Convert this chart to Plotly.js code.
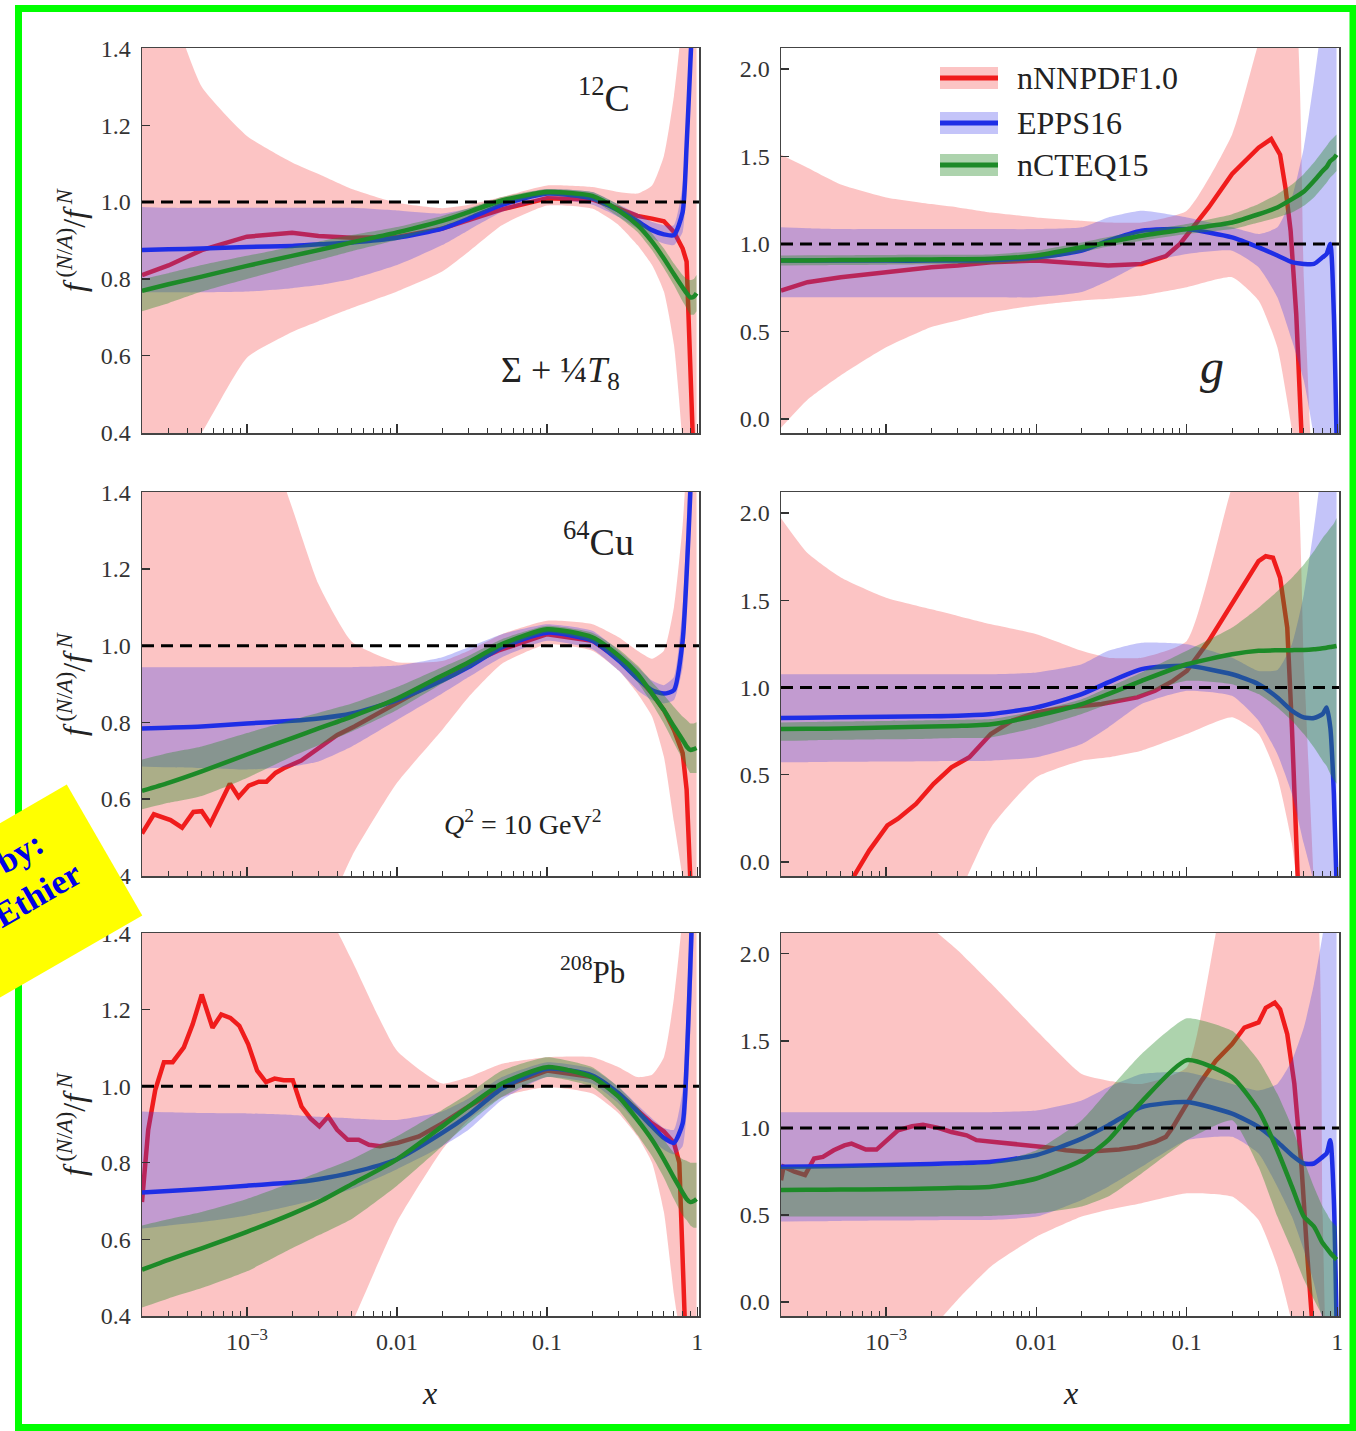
<!DOCTYPE html>
<html><head><meta charset="utf-8">
<script src="https://cdn.plot.ly/plotly-3.0.1.min.js"></script>
<style>body{margin:0;background:#fff}</style>
</head><body><div id="chart" style="width:1356px;height:1431px"></div>
<script>
// ---------- shared x grid (used by bands and smooth central lines) ----------
const xGrid = [2e-4,3e-4,5e-4,1e-3,2e-3,3e-3,5e-3,0.01,0.02,0.03,0.05,0.1,0.2,0.3,0.4,0.5,0.6,0.7,0.8,0.85,0.9,0.95,0.99];

// ---------- 12C, Sigma + T8/4 ----------
const c_q_nn    = [0.81,0.835,0.875,0.91,0.92,0.912,0.907,0.909,0.931,0.953,0.981,1.01,1.007,0.983,0.964,0.957,0.95,0.922,0.879,0.845,0.63,0.37,0.11];
const c_q_nn_lo = [0.11,0.28,0.40,0.595,0.662,0.69,0.724,0.767,0.819,0.871,0.94,0.991,0.983,0.94,0.888,0.836,0.767,0.629,0.37,0.11,-0.3,-0.6,-1.0];
const c_q_nn_hi = [1.75,1.53,1.30,1.172,1.103,1.073,1.034,0.998,0.984,0.993,1.013,1.043,1.039,1.026,1.022,1.043,1.12,1.276,1.49,1.75,2.1,2.5,3.0];
const c_q_ep    = [0.875,0.877,0.879,0.883,0.886,0.89,0.895,0.907,0.931,0.957,0.993,1.022,1.01,0.978,0.95,0.927,0.916,0.914,0.974,1.147,1.36,1.58,1.92];
const c_q_ep_lo = [0.765,0.765,0.765,0.767,0.776,0.784,0.80,0.836,0.888,0.927,0.974,1.007,0.993,0.961,0.931,0.905,0.892,0.888,0.922,1.06,1.276,1.5,1.8];
const c_q_ep_hi = [0.987,0.985,0.985,0.985,0.985,0.985,0.985,0.978,0.97,0.983,1.009,1.034,1.026,0.993,0.97,0.948,0.94,0.94,1.043,1.233,1.49,1.75,2.1];
const c_q_nc    = [0.769,0.786,0.806,0.834,0.86,0.875,0.895,0.921,0.951,0.974,1.004,1.026,1.016,0.978,0.94,0.897,0.853,0.812,0.778,0.763,0.752,0.754,0.763];
const c_q_nc_lo = [0.716,0.737,0.767,0.80,0.832,0.849,0.872,0.901,0.935,0.961,0.993,1.017,1.004,0.961,0.922,0.875,0.828,0.784,0.741,0.724,0.707,0.707,0.716];
const c_q_nc_hi = [0.80,0.815,0.836,0.86,0.884,0.897,0.914,0.935,0.964,0.984,1.013,1.034,1.026,0.993,0.957,0.918,0.879,0.84,0.81,0.80,0.797,0.80,0.81];

// ---------- 12C, gluon ----------
const c_g_nn_x  = [2e-4,3e-4,5e-4,1e-3,2e-3,3e-3,5e-3,0.01,0.02,0.03,0.05,0.0725,0.09,0.14,0.2,0.3,0.364,0.417,0.453,0.49,0.534,0.58];
const c_g_nn    = [0.734,0.782,0.81,0.839,0.867,0.877,0.896,0.905,0.886,0.877,0.886,0.93,1.0,1.21,1.40,1.55,1.60,1.51,1.32,1.076,0.60,-0.1];
const c_g_nn_lo = [-0.05,0.11,0.25,0.41,0.526,0.563,0.61,0.65,0.677,0.687,0.706,0.753,0.81,0.677,0.41,-0.06,-0.5,-1,-1,-1,-1,-1,-1];
const c_g_nn_hi = [1.51,1.436,1.34,1.266,1.228,1.209,1.18,1.152,1.133,1.123,1.123,1.19,1.626,2.15,2.5,2.5,0.8,-0.5,-1,-1,-1,-1,-1];
const c_g_ep    = [0.905,0.905,0.905,0.905,0.905,0.906,0.908,0.924,0.962,1.019,1.076,1.085,1.038,0.981,0.934,0.896,0.886,0.886,0.924,0.943,1.0,0.6,-0.1];
const c_g_ep_lo = [0.696,0.696,0.696,0.696,0.696,0.696,0.696,0.696,0.725,0.79,0.886,0.943,0.962,0.867,0.696,0.45,0.22,-0.1,-0.5,-0.5,-0.5,-0.5,-0.5];
const c_g_ep_hi = [1.095,1.09,1.085,1.085,1.085,1.085,1.085,1.085,1.095,1.152,1.19,1.152,1.095,1.057,1.095,1.266,1.55,1.93,2.3,2.5,2.5,2.5,2.5];
const c_g_nc    = [0.905,0.906,0.908,0.91,0.912,0.913,0.915,0.934,0.981,1.009,1.047,1.085,1.123,1.17,1.209,1.256,1.30,1.36,1.417,1.44,1.474,1.49,1.51];
const c_g_nc_lo = [0.877,0.878,0.88,0.882,0.884,0.885,0.886,0.905,0.953,0.985,1.019,1.057,1.085,1.123,1.152,1.18,1.218,1.266,1.323,1.35,1.38,1.40,1.417];
const c_g_nc_hi = [0.934,0.935,0.936,0.937,0.938,0.939,0.94,0.962,1.009,1.04,1.076,1.114,1.17,1.228,1.285,1.34,1.40,1.465,1.53,1.56,1.59,1.61,1.626];

// ---------- 64Cu, Sigma + T8/4 ----------
const cu_q_nn_x  = [2.0e-4,2.4e-4,3.1e-4,3.7e-4,4.4e-4,5.0e-4,5.7e-4,7.7e-4,8.8e-4,1.03e-3,1.2e-3,1.35e-3,1.55e-3,1.76e-3,2.3e-3,3.0e-3,4.0e-3,5.2e-3,9.0e-3,0.0157,0.027,0.047,0.1,0.2,0.3,0.4,0.5,0.6,0.7,0.8,0.85,0.9,0.99];
const cu_q_nn    = [0.51,0.56,0.545,0.525,0.566,0.568,0.535,0.64,0.605,0.635,0.645,0.645,0.668,0.68,0.70,0.733,0.767,0.789,0.841,0.892,0.944,0.987,1.03,1.013,0.966,0.918,0.875,0.832,0.78,0.72,0.625,0.39,-0.5];
const cu_q_nn_lo = [-0.5,-0.45,-0.35,-0.2,0.05,0.25,0.45,0.642,0.78,0.866,0.953,1.004,0.987,0.935,0.875,0.815,0.71,0.54,0.39,0.2,-0.2,-0.5,-1];
const cu_q_nn_hi = [2.5,2.3,2.0,1.7,1.36,1.16,1.01,0.957,0.96,0.987,1.03,1.065,1.056,1.022,0.987,0.966,0.987,1.10,1.315,1.49,1.8,2.2,3.0];
const cu_q_ep    = [0.784,0.786,0.789,0.797,0.804,0.81,0.823,0.858,0.909,0.944,0.996,1.034,1.013,0.961,0.914,0.884,0.875,0.884,1.013,1.185,1.40,1.7,2.0];
const cu_q_ep_lo = [0.685,0.683,0.681,0.677,0.685,0.698,0.737,0.806,0.875,0.918,0.97,1.013,0.991,0.935,0.884,0.858,0.849,0.858,0.944,1.10,1.315,1.6,1.9];
const cu_q_ep_hi = [0.944,0.944,0.944,0.944,0.944,0.944,0.944,0.948,0.97,0.996,1.03,1.056,1.039,0.987,0.944,0.909,0.897,0.918,1.10,1.315,1.6,1.9,2.2];
const cu_q_nc    = [0.621,0.642,0.672,0.716,0.759,0.784,0.815,0.862,0.922,0.957,1.004,1.043,1.022,0.974,0.927,0.875,0.832,0.789,0.754,0.737,0.728,0.73,0.733];
const cu_q_nc_lo = [0.573,0.59,0.608,0.655,0.711,0.74,0.776,0.832,0.901,0.94,0.991,1.034,1.009,0.957,0.905,0.849,0.797,0.746,0.703,0.685,0.668,0.668,0.668];
const cu_q_nc_hi = [0.703,0.72,0.737,0.772,0.806,0.825,0.849,0.892,0.944,0.974,1.017,1.052,1.034,0.991,0.948,0.905,0.871,0.84,0.815,0.806,0.797,0.797,0.80];

// ---------- 64Cu, gluon ----------
const cu_g_nn_x  = [2e-4,6.05e-4,7.74e-4,1.02e-3,1.2e-3,1.58e-3,2.07e-3,2.72e-3,3.58e-3,4.97e-3,6.9e-3,0.01,0.0157,0.0271,0.0468,0.0615,0.0809,0.1,0.14,0.2,0.2415,0.3,0.335,0.374,0.417,0.4655,0.5,0.548];
const cu_g_nn    = [-0.7,-0.086,0.067,0.21,0.248,0.333,0.448,0.543,0.60,0.733,0.81,0.857,0.886,0.905,0.943,0.981,1.038,1.095,1.267,1.476,1.59,1.724,1.752,1.743,1.629,1.343,0.771,-0.12];
const cu_g_nn_lo = [-0.5,-0.5,-0.5,-0.5,-0.5,-0.2,0.2,0.486,0.581,0.60,0.638,0.733,0.829,0.733,0.486,0.105,-0.5,-1,-1,-1,-1,-1,-1];
const cu_g_nn_hi = [1.97,1.77,1.63,1.514,1.448,1.41,1.362,1.305,1.21,1.171,1.171,1.267,2.15,2.5,2.5,2.5,1.15,-0.12,-1,-1,-1,-1,-1];
const cu_g_ep    = [0.825,0.827,0.829,0.832,0.835,0.838,0.848,0.886,0.962,1.029,1.105,1.124,1.076,1.019,0.943,0.867,0.829,0.825,0.848,0.886,0.77,0.39,-0.12];
const cu_g_ep_lo = [0.571,0.572,0.574,0.576,0.578,0.579,0.581,0.60,0.676,0.771,0.905,0.981,0.952,0.81,0.619,0.39,0.105,-0.12,-0.5,-0.5,-0.5,-0.5,-0.5];
const cu_g_ep_hi = [1.076,1.076,1.076,1.076,1.076,1.076,1.076,1.086,1.133,1.21,1.257,1.248,1.171,1.095,1.10,1.248,1.533,1.914,2.3,2.5,2.5,2.5,2.5];
const cu_g_nc    = [0.762,0.763,0.765,0.771,0.776,0.78,0.79,0.838,0.905,0.962,1.038,1.133,1.19,1.21,1.213,1.214,1.215,1.219,1.225,1.228,1.232,1.235,1.238];
const cu_g_nc_lo = [0.695,0.697,0.70,0.703,0.707,0.71,0.714,0.771,0.848,0.905,0.962,1.038,1.019,0.962,0.886,0.81,0.733,0.657,0.581,0.55,0.505,0.47,0.448];
const cu_g_nc_hi = [0.80,0.802,0.805,0.808,0.812,0.815,0.819,0.867,0.933,1.0,1.086,1.21,1.343,1.457,1.552,1.629,1.705,1.781,1.857,1.885,1.914,1.94,1.971];

// ---------- 208Pb, Sigma + T8/4 ----------
const pb_q_nn_x  = [2.0e-4,2.2e-4,2.45e-4,2.8e-4,3.2e-4,3.8e-4,4.35e-4,5.0e-4,5.9e-4,6.75e-4,7.75e-4,8.9e-4,1.02e-3,1.17e-3,1.34e-3,1.53e-3,1.76e-3,2.02e-3,2.31e-3,2.65e-3,3.04e-3,3.48e-3,3.99e-3,4.7e-3,5.55e-3,6.5e-3,7.7e-3,0.0101,0.014,0.02,0.03,0.05,0.1,0.2,0.3,0.4,0.5,0.6,0.7,0.76,0.8,0.85,0.99];
const pb_q_nn    = [0.697,0.886,0.99,1.063,1.063,1.102,1.162,1.24,1.153,1.188,1.179,1.158,1.11,1.041,1.011,1.02,1.016,1.016,0.947,0.916,0.895,0.921,0.886,0.86,0.86,0.847,0.843,0.852,0.869,0.903,0.947,0.998,1.041,1.024,0.981,0.938,0.903,0.882,0.852,0.80,0.628,0.395,-0.5];
const pb_q_nn_lo = [-0.5,-0.45,-0.4,-0.2,0.0,0.2,0.38,0.645,0.834,0.912,0.972,0.998,0.981,0.929,0.869,0.80,0.671,0.455,0.3,0.0,-0.3,-0.6,-1];
const pb_q_nn_hi = [2.2,2.1,2.0,1.8,1.6,1.5,1.33,1.093,1.007,1.024,1.059,1.076,1.076,1.05,1.024,1.03,1.076,1.231,1.45,1.7,2.0,2.5,3.0];
const pb_q_ep    = [0.722,0.726,0.731,0.74,0.748,0.757,0.774,0.809,0.878,0.925,0.994,1.046,1.028,0.981,0.934,0.895,0.865,0.852,0.903,1.059,1.317,1.6,1.9];
const pb_q_ep_lo = [0.628,0.636,0.645,0.662,0.688,0.705,0.731,0.783,0.843,0.886,0.964,1.024,1.007,0.955,0.903,0.86,0.834,0.822,0.843,0.929,1.145,1.4,1.7];
const pb_q_ep_hi = [0.934,0.932,0.93,0.929,0.925,0.92,0.916,0.912,0.934,0.968,1.024,1.063,1.046,0.998,0.951,0.916,0.891,0.886,0.99,1.188,1.45,1.75,2.1];
const pb_q_nc    = [0.52,0.546,0.576,0.619,0.666,0.697,0.744,0.809,0.895,0.947,1.007,1.05,1.024,0.972,0.912,0.86,0.809,0.761,0.722,0.705,0.697,0.70,0.705];
const pb_q_nc_lo = [0.421,0.445,0.472,0.516,0.576,0.61,0.653,0.74,0.843,0.903,0.972,1.024,0.998,0.938,0.873,0.817,0.761,0.705,0.662,0.65,0.636,0.63,0.63];
const pb_q_nc_hi = [0.636,0.652,0.671,0.705,0.748,0.775,0.809,0.869,0.938,0.981,1.041,1.076,1.05,0.998,0.947,0.899,0.86,0.826,0.809,0.805,0.80,0.80,0.80];

// ---------- 208Pb, gluon ----------
const pb_g_nn_x  = [2.0e-4,2.08e-4,2.455e-4,2.89e-4,3.32e-4,3.8e-4,4.48e-4,5.28e-4,5.89e-4,7.33e-4,8.64e-4,1.02e-3,1.2e-3,1.49e-3,1.76e-3,2.19e-3,2.72e-3,3.43e-3,3.99e-3,5.25e-3,6.9e-3,9.07e-3,0.01193,0.0157,0.0206,0.0271,0.0356,0.0468,0.0615,0.0725,0.0809,0.1,0.1253,0.156,0.2,0.2415,0.3,0.335,0.3846,0.4173,0.4655,0.519,0.5792,0.6287,0.6823];
const pb_g_nn    = [0.70,0.777,0.749,0.73,0.825,0.834,0.872,0.90,0.91,0.876,0.876,0.93,0.987,1.01,1.019,1.002,0.977,0.958,0.93,0.92,0.91,0.899,0.888,0.872,0.863,0.869,0.876,0.891,0.92,0.949,1.006,1.139,1.272,1.387,1.482,1.577,1.606,1.69,1.72,1.682,1.539,1.253,0.777,0.30,-0.12];
const pb_g_nn_lo = [-0.6,-0.5,-0.4,-0.3,-0.15,0.015,0.206,0.375,0.491,0.53,0.568,0.625,0.606,0.472,0.206,-0.12,-0.5,-1,-1,-1,-1,-1,-1];
const pb_g_nn_hi = [3.0,2.9,2.7,2.4,2.15,2.02,1.83,1.56,1.31,1.272,1.253,1.349,2.5,2.5,2.5,2.5,2.5,2.5,0.5,-0.5,-1,-1,-1];
const pb_g_ep    = [0.777,0.779,0.782,0.787,0.793,0.798,0.806,0.844,0.939,1.015,1.12,1.149,1.082,1.006,0.92,0.844,0.796,0.796,0.834,0.853,0.93,0.587,-0.12];
const pb_g_ep_lo = [0.463,0.464,0.466,0.468,0.47,0.471,0.472,0.491,0.587,0.663,0.777,0.93,0.949,0.853,0.663,0.491,0.30,0.11,-0.12,-0.5,-0.5,-0.5,-0.5];
const pb_g_ep_hi = [1.091,1.091,1.091,1.091,1.091,1.091,1.091,1.10,1.158,1.234,1.31,1.32,1.253,1.215,1.253,1.387,1.577,1.825,2.11,2.3,2.5,2.5,2.5];
const pb_g_nc    = [0.644,0.645,0.646,0.648,0.652,0.656,0.663,0.71,0.815,0.93,1.15,1.39,1.291,1.101,0.872,0.663,0.491,0.434,0.339,0.31,0.282,0.26,0.244];
const pb_g_nc_lo = [0.491,0.491,0.491,0.491,0.492,0.493,0.494,0.51,0.549,0.606,0.739,0.93,1.044,0.777,0.491,0.30,0.13,0.015,-0.08,-0.12,-0.15,-0.15,-0.15];
const pb_g_nc_hi = [0.777,0.777,0.778,0.78,0.782,0.785,0.796,0.872,1.044,1.215,1.425,1.63,1.558,1.387,1.196,1.006,0.815,0.663,0.549,0.51,0.472,0.45,0.434];

// ---------- labels ----------
const seriesNames = ['nNNPDF1.0','EPPS16','nCTEQ15'];
const xTickVals = [1e-3,1e-2,0.1,1];
const xTickText = ['10<sup>−3</sup>','0.01','0.1','1'];
const xMinorVals = [3e-4,4e-4,5e-4,6e-4,7e-4,8e-4,9e-4,2e-3,3e-3,4e-3,5e-3,6e-3,7e-3,8e-3,9e-3,0.02,0.03,0.04,0.05,0.06,0.07,0.08,0.09,0.2,0.3,0.4,0.5,0.6,0.7,0.8,0.9];
const panelLabels = ['<sup>12</sup>C','Σ + ¼<i>T</i><sub>8</sub>','<i>g</i>','<sup>64</sup>Cu','<i>Q</i><sup>2</sup> = 10 GeV<sup>2</sup>','<sup>208</sup>Pb'];
const yTitle = '<i>f</i><sup> (<i>N</i>/<i>A</i>)</sup>/<i>f</i><sup> <i>N</i></sup>';

// ---------- build ----------
const W=1356,H=1431;
const px=v=>v/W, py=v=>1-v/H;
const colDom=[[142/W,699/W],[781/W,1339/W]];
const rowDom=[[1-433/H,1-48/H],[1-876/H,1-492/H],[1-1316/H,1-933/H]];
const COL={
  nn:{line:'#f01c1c',fill:'rgba(245,60,60,0.30)'},
  ep:{line:'#1e2ee6',fill:'rgba(60,60,235,0.30)'},
  nc:{line:'#1d8a28',fill:'rgba(40,140,40,0.38)'}
};
const panels=[
 {r:0,c:0,nn:[xGrid,c_q_nn,c_q_nn_lo,c_q_nn_hi],ep:[xGrid,c_q_ep,c_q_ep_lo,c_q_ep_hi],nc:[xGrid,c_q_nc,c_q_nc_lo,c_q_nc_hi]},
 {r:0,c:1,nn:[c_g_nn_x,c_g_nn,c_g_nn_lo,c_g_nn_hi],ep:[xGrid,c_g_ep,c_g_ep_lo,c_g_ep_hi],nc:[xGrid,c_g_nc,c_g_nc_lo,c_g_nc_hi]},
 {r:1,c:0,nn:[cu_q_nn_x,cu_q_nn,cu_q_nn_lo,cu_q_nn_hi],ep:[xGrid,cu_q_ep,cu_q_ep_lo,cu_q_ep_hi],nc:[xGrid,cu_q_nc,cu_q_nc_lo,cu_q_nc_hi]},
 {r:1,c:1,nn:[cu_g_nn_x,cu_g_nn,cu_g_nn_lo,cu_g_nn_hi],ep:[xGrid,cu_g_ep,cu_g_ep_lo,cu_g_ep_hi],nc:[xGrid,cu_g_nc,cu_g_nc_lo,cu_g_nc_hi]},
 {r:2,c:0,nn:[pb_q_nn_x,pb_q_nn,pb_q_nn_lo,pb_q_nn_hi],ep:[xGrid,pb_q_ep,pb_q_ep_lo,pb_q_ep_hi],nc:[xGrid,pb_q_nc,pb_q_nc_lo,pb_q_nc_hi]},
 {r:2,c:1,nn:[pb_g_nn_x,pb_g_nn,pb_g_nn_lo,pb_g_nn_hi],ep:[xGrid,pb_g_ep,pb_g_ep_lo,pb_g_ep_hi],nc:[xGrid,pb_g_nc,pb_g_nc_lo,pb_g_nc_hi]}
];
const tickFont={family:'Liberation Serif, serif',size:24,color:'#333'};
const traces=[], layout={width:W,height:H,margin:{l:0,r:0,t:0,b:0},paper_bgcolor:'#fff',plot_bgcolor:'rgba(0,0,0,0)',showlegend:false,shapes:[],annotations:[]};

panels.forEach((p,i)=>{
  const s=i===0?'':String(i+1);
  ['nn','ep','nc'].forEach((k,j)=>{
    const [cx,cy,lo,hi]=p[k];
    traces.push({x:xGrid,y:lo,xaxis:'x'+s,yaxis:'y'+s,mode:'lines',line:{width:0,shape:'spline',smoothing:0.5},hoverinfo:'skip',showlegend:false,name:seriesNames[j]+' lo'});
    traces.push({x:xGrid,y:hi,xaxis:'x'+s,yaxis:'y'+s,mode:'lines',fill:'tonexty',fillcolor:COL[k].fill,line:{width:0,shape:'spline',smoothing:0.5},hoverinfo:'skip',showlegend:false,name:seriesNames[j]+' hi'});
    traces.push({x:cx,y:cy,xaxis:'x'+s,yaxis:'y'+s,mode:'lines',line:{color:COL[k].line,width:4.5,shape:k==='nn'?'linear':'spline',smoothing:0.6},name:seriesNames[j],showlegend:false});
  });
  layout['xaxis'+s]={type:'log',range:[-3.699,0.012],domain:colDom[p.c],anchor:'y'+s,
    tickmode:'array',tickvals:xTickVals,ticktext:xTickText,ticks:'inside',ticklen:9,tickwidth:1.2,tickcolor:'#333',
    showticklabels:p.r===2,tickfont:tickFont,ticklabelstandoff:4,
    minor:{tickmode:'array',tickvals:xMinorVals,ticks:'inside',ticklen:5,tickwidth:1,tickcolor:'#333'},
    showline:true,mirror:true,linecolor:'#444',linewidth:1.5,showgrid:false,zeroline:false};
  const left=p.c===0;
  layout['yaxis'+s]={range:left?[0.399,1.401]:[-0.08,2.12],domain:rowDom[p.r],anchor:'x'+s,
    tickmode:'linear',tick0:left?0.4:0,dtick:left?0.2:0.5,tickformat:'.1f',ticks:'inside',ticklen:8,tickwidth:1.2,tickcolor:'#333',
    tickfont:tickFont,ticklabelstandoff:5,
    showline:true,mirror:true,linecolor:'#444',linewidth:1.5,showgrid:false,zeroline:false};
  layout.shapes.push({type:'line',xref:'x'+s+' domain',yref:'y'+s,x0:0,x1:1,y0:1,y1:1,line:{color:'#000',width:3,dash:'12px,7px'},layer:'above'});
});

// outer green frame
layout.shapes.push({type:'rect',xref:'paper',yref:'paper',x0:px(18.5),x1:px(1353),y0:py(1427.5),y1:py(8.5),line:{color:'#00ff00',width:7},fillcolor:'rgba(0,0,0,0)',layer:'above'});

// legend (manual, in top-right panel)
const legY=[78,123,165];
['nn','ep','nc'].forEach((k,j)=>{
  layout.shapes.push({type:'rect',xref:'paper',yref:'paper',x0:px(940),x1:px(998),y0:py(legY[j]+11),y1:py(legY[j]-11),line:{width:0},fillcolor:COL[k].fill,layer:'above'});
  layout.shapes.push({type:'line',xref:'paper',yref:'paper',x0:px(940),x1:px(998),y0:py(legY[j]),y1:py(legY[j]),line:{color:COL[k].line,width:5},layer:'above'});
  layout.annotations.push({xref:'paper',yref:'paper',x:px(1015),y:py(legY[j]),xanchor:'left',yanchor:'middle',showarrow:false,text:seriesNames[j],font:{family:'Liberation Serif, serif',size:32,color:'#222'}});
});

const ann=(x,y,text,size,extra)=>layout.annotations.push(Object.assign({xref:'paper',yref:'paper',x:px(x),y:py(y),xanchor:'center',yanchor:'middle',showarrow:false,text:text,font:{family:'Liberation Serif, serif',size:size,color:'#222'}},extra||{}));
ann(604,95,panelLabels[0],38);
ann(560,373,panelLabels[1],36);
ann(1212,366,panelLabels[2],48);
ann(598,539,panelLabels[3],38);
ann(523,823,panelLabels[4],28);
ann(592,970,panelLabels[5],31);
[240,684,1124].forEach(y=>ann(72,y,yTitle,32,{textangle:-90}));
ann(430,1393,'<i>x</i>',32);
ann(1070,1393,'<i>x</i>',32);

// yellow stamp (partly outside the page, as in the original)
layout.annotations.push({xref:'paper',yref:'paper',x:px(-16.6),y:py(920.4),xanchor:'center',yanchor:'middle',showarrow:false,
  text:'<b>by:&nbsp;&nbsp;&nbsp;&nbsp;</b><br><b>Ethier&nbsp;&nbsp;</b>',align:'right',valign:'top',width:250,height:120,borderpad:15,bgcolor:'#ffff00',textangle:-30,
  font:{family:'Liberation Serif, serif',size:35,color:'#0000e6'}});

Plotly.newPlot('chart',traces,layout,{staticPlot:true});
</script></body></html>
